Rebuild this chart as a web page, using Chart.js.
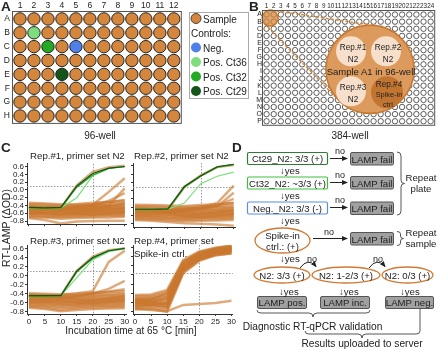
<!DOCTYPE html>
<html>
<head>
<meta charset="utf-8">
<script src="https://cdn.jsdelivr.net/npm/chart.js@4.4.1/dist/chart.umd.min.js"></script>
<style>
  body { margin: 0; background: #fff; }
  #fig { position: relative; width: 440px; height: 350px; overflow: hidden; }
  #fig canvas { position: absolute; }
  #fig svg { position: absolute; left: 0; top: 0; }
  svg text { font-family: Arial, "Liberation Sans", sans-serif; fill: #222; }
</style>
</head>
<body>
<div id="fig">
  <canvas id="plate96" width="188" height="131" style="left:0;top:0"></canvas>
  <canvas id="plate384" width="186" height="130" style="left:253px;top:0"></canvas>
  <canvas id="rep1" width="131" height="72" style="left:0;top:158px"></canvas>
  <canvas id="rep2" width="106" height="72" style="left:131px;top:158px"></canvas>
  <canvas id="rep3" width="131" height="86" style="left:0;top:240px"></canvas>
  <canvas id="rep4" width="106" height="86" style="left:131px;top:240px"></canvas>

  <svg width="440" height="350" viewBox="0 0 440 350">
    <defs>
      <marker id="ah" markerWidth="6" markerHeight="6" refX="5" refY="3" orient="auto" markerUnits="userSpaceOnUse">
        <path d="M0,0.5 L6,3 L0,5.5 z" fill="#222"/>
      </marker>
    </defs>
    <!-- panel letters -->
    <g font-weight="bold" font-size="13.5">
      <text x="1" y="11">A</text>
      <text x="249" y="11">B</text>
      <text x="1" y="152">C</text>
      <text x="232" y="152">D</text>
    </g>

    <!-- panel A legend -->
    <rect x="189.5" y="12.5" width="59" height="86" fill="none" stroke="#aaa"/>
    <circle cx="196" cy="18.5" r="5" fill="#d4873c" stroke="#222" stroke-width="0.8"/>
    <circle cx="196" cy="47.5" r="5" fill="#4f80e8"/>
    <circle cx="196" cy="62" r="5" fill="#7ddc7d"/>
    <circle cx="196" cy="76.5" r="5" fill="#22aa22"/>
    <circle cx="196" cy="91" r="5" fill="#14561a"/>
    <g font-size="10" dominant-baseline="central">
      <text x="203" y="19">Sample</text>
      <text x="191" y="33">Controls:</text>
      <text x="203" y="48">Neg.</text>
      <text x="203" y="62.5">Pos. Ct36</text>
      <text x="203" y="77">Pos. Ct32</text>
      <text x="203" y="91.5">Pos. Ct29</text>
    </g>
    <text x="100" y="139" font-size="10" text-anchor="middle">96-well</text>
    <text x="350" y="139" font-size="10" text-anchor="middle">384-well</text>

    <!-- panel B zoom labels -->
    <g font-size="8.2" text-anchor="middle" dominant-baseline="central">
      <text x="353" y="47.5">Rep.#1</text><text x="353" y="59">N2</text>
      <text x="388" y="47.5">Rep.#2</text><text x="388" y="59">N2</text>
      <text x="353" y="87.5">Rep.#3</text><text x="353" y="99">N2</text>
      <text x="389" y="84">Rep.#4</text>
      <text x="389" y="94.5" font-size="7.4">Spike-in</text>
      <text x="389" y="104.5" font-size="7.4">ctrl.</text>
      <text x="371" y="71" font-size="9.5">Sample A1 in 96-well</text>
    </g>

    <!-- panel C text -->
    <g font-size="9.7">
      <text x="30" y="159">Rep.#1, primer set N2</text>
      <text x="134" y="159">Rep.#2, primer set N2</text>
      <text x="30" y="244">Rep.#3, primer set N2</text>
      <text x="134" y="244">Rep.#4, primer set</text>
      <text x="134" y="257">Spike-in ctrl.</text>
    </g>
    <text transform="translate(9.5,228) rotate(-90)" font-size="10.5" text-anchor="middle">RT-LAMP (ΔOD)</text>
    <text x="131" y="334" font-size="10" text-anchor="middle">Incubation time at 65 °C [min]</text>

    <!-- panel D flowchart -->
    <g font-size="9.6" text-anchor="middle" dominant-baseline="central">
      <rect x="247.5" y="152.5" width="80" height="12" rx="1.5" fill="#fff" stroke="#2e7d32" stroke-width="1.2"/>
      <text x="287.5" y="158.8">Ct29_N2: 3/3 (+)</text>
      <rect x="247.5" y="177" width="80" height="12" rx="1.5" fill="#fff" stroke="#3cbf3c" stroke-width="1.2"/>
      <text x="287.5" y="183.3">Ct32_N2: ~3/3 (+)</text>
      <rect x="247.5" y="202" width="80" height="12" rx="1.5" fill="#fff" stroke="#5b8de8" stroke-width="1.2"/>
      <text x="287.5" y="208.3">Neg._N2: 3/3 (-)</text>

      <rect x="350.5" y="152.5" width="43" height="12.5" rx="1.5" fill="#a0a0a0" stroke="#555"/>
      <text x="372" y="159">LAMP fail</text>
      <rect x="350.5" y="176.5" width="43" height="12.5" rx="1.5" fill="#a0a0a0" stroke="#555"/>
      <text x="372" y="183">LAMP fail</text>
      <rect x="350.5" y="202" width="43" height="12.5" rx="1.5" fill="#a0a0a0" stroke="#555"/>
      <text x="372" y="208.5">LAMP fail</text>
      <rect x="350.5" y="232.5" width="43" height="12.5" rx="1.5" fill="#a0a0a0" stroke="#555"/>
      <text x="372" y="239">LAMP fail</text>

      <text x="340" y="151" font-size="9">no</text>
      <text x="340" y="175" font-size="9">no</text>
      <text x="340" y="200" font-size="9">no</text>
      <text x="329" y="232" font-size="9">no</text>

      <ellipse cx="282.5" cy="240.5" rx="27.5" ry="12.5" fill="#fff" stroke="#cf7a34" stroke-width="1.3"/>
      <text x="282.5" y="235">Spike-in</text>
      <text x="282.5" y="246.5">ctrl.: (+)</text>

      <ellipse cx="282" cy="275" rx="28" ry="8" fill="#fff" stroke="#cf7a34" stroke-width="1.3"/>
      <text x="282" y="275.5">N2: 3/3 (+)</text>
      <ellipse cx="346" cy="275" rx="34" ry="8" fill="#fff" stroke="#cf7a34" stroke-width="1.3"/>
      <text x="346" y="275.5">N2: 1-2/3 (+)</text>
      <ellipse cx="407.5" cy="275" rx="25.5" ry="8" fill="#fff" stroke="#cf7a34" stroke-width="1.3"/>
      <text x="407.5" y="275.5">N2: 0/3 (+)</text>
      <text x="312" y="259" font-size="9">no</text>
      <text x="378" y="259" font-size="9">no</text>

      <rect x="257.5" y="296.5" width="49" height="12" rx="1.5" fill="#a0a0a0" stroke="#555"/>
      <text x="282" y="302.8">LAMP pos.</text>
      <rect x="320.5" y="296.5" width="49" height="12" rx="1.5" fill="#a0a0a0" stroke="#555"/>
      <text x="345" y="302.8">LAMP inc.</text>
      <rect x="385.5" y="296.5" width="48" height="12" rx="1.5" fill="#a0a0a0" stroke="#555"/>
      <text x="409.5" y="302.8">LAMP neg.</text>

      <text x="421" y="177">Repeat</text>
      <text x="421" y="188.5">plate</text>
      <text x="421" y="232">Repeat</text>
      <text x="421" y="243.5">sample</text>
    </g>
    <g font-size="9.6" dominant-baseline="central">
      <text x="280" y="170">↓yes</text>
      <text x="280" y="195">↓yes</text>
      <text x="280" y="220">↓yes</text>
      <text x="280" y="258">↓yes</text>
      <text x="279" y="291">↓yes</text>
      <text x="339" y="291">↓yes</text>
      <text x="400" y="291">↓yes</text>
    </g>
    <g stroke="#222" stroke-width="1" fill="none">
      <line x1="330" y1="158.5" x2="347" y2="158.5" marker-end="url(#ah)"/>
      <line x1="330" y1="182.5" x2="347" y2="182.5" marker-end="url(#ah)"/>
      <line x1="330" y1="207.5" x2="347" y2="207.5" marker-end="url(#ah)"/>
      <line x1="313" y1="238.5" x2="347" y2="238.5" marker-end="url(#ah)"/>
      <path d="M300,268 Q308,257 316,266.5" marker-end="url(#ah)"/>
      <path d="M369,268 Q377,257 385,266.5" marker-end="url(#ah)"/>
    </g>
    <g stroke="#444" stroke-width="0.9" fill="none">
      <path d="M397,152 Q401,152 401,156 L401,180 Q401,183.5 404.5,183.5 Q401,183.5 401,187 L401,211 Q401,215 397,215"/>
      <path d="M397,231.5 Q400.5,231.5 400.5,234 L400.5,236 Q400.5,238.5 403.5,238.5 Q400.5,238.5 400.5,241 L400.5,243 Q400.5,245.5 397,245.5"/>
      <path d="M257,310 Q257,313 261,313 L309,313 Q313,313 313,317 Q313,313 317,313 L366,313 Q370,313 370,310"/>
      <path d="M305,331 Q305,334 309,334 L358,334 Q362,334 362,338 Q362,334 366,334 L416,334 Q420,334 420,331 L420,309"/>
    </g>
    <g font-size="10.2" text-anchor="middle">
      <text x="312.5" y="330">Diagnostic RT-qPCR validation</text>
      <text x="362" y="347">Results uploaded to server</text>
    </g>
  </svg>
</div>

<script>
// ---------- data: plates ----------
const rows96 = ['A', 'B', 'C', 'D', 'E', 'F', 'G', 'H'];
const cols96 = [1, 2, 3, 4, 5, 6, 7, 8, 9, 10, 11, 12];
const controlWell = ['B2', 'C3', 'C5', 'E4'];
const controlType = ['Pos. Ct36', 'Pos. Ct32', 'Neg.', 'Pos. Ct29'];

const rows384 = ['A', 'B', 'C', 'D', 'E', 'F', 'G', 'H', 'I', 'J', 'K', 'L', 'M', 'N', 'O', 'P'];
const cols384 = [1, 2, 3, 4, 5, 6, 7, 8, 9, 10, 11, 12, 13, 14, 15, 16, 17, 18, 19, 20, 21, 22, 23, 24];

// ---------- data: RT-LAMP curves (ΔOD), sampled at these times ----------
const timeMin = [0, 5, 10, 15, 20, 25, 30];
const yTicks = [-0.8, -0.6, -0.4, -0.2, 0.0, 0.2, 0.4, 0.6];
const xTicks = [0, 5, 10, 15, 20, 25, 30];

const rep1Samples = [
  [-0.33, -0.35, -0.37, -0.36, -0.33, -0.31, -0.28],
  [-0.36, -0.37, -0.40, -0.38, -0.37, -0.35, -0.33],
  [-0.39, -0.41, -0.42, -0.42, -0.40, -0.39, -0.36],
  [-0.42, -0.43, -0.45, -0.43, -0.42, -0.41, -0.40],
  [-0.44, -0.45, -0.47, -0.47, -0.45, -0.43, -0.42],
  [-0.46, -0.48, -0.49, -0.48, -0.46, -0.46, -0.45],
  [-0.48, -0.49, -0.51, -0.51, -0.49, -0.48, -0.46],
  [-0.50, -0.52, -0.53, -0.52, -0.51, -0.49, -0.49],
  [-0.52, -0.53, -0.55, -0.55, -0.53, -0.52, -0.50],
  [-0.55, -0.55, -0.57, -0.56, -0.55, -0.55, -0.53],
  [-0.56, -0.58, -0.59, -0.58, -0.57, -0.56, -0.56],
  [-0.58, -0.60, -0.61, -0.61, -0.59, -0.58, -0.57],
  [-0.61, -0.61, -0.63, -0.62, -0.61, -0.61, -0.59],
  [-0.62, -0.64, -0.65, -0.64, -0.64, -0.62, -0.62],
  [-0.65, -0.66, -0.68, -0.66, -0.65, -0.64, -0.63],
  [-0.67, -0.69, -0.70, -0.69, -0.68, -0.67, -0.66],
  [-0.70, -0.71, -0.74, -0.72, -0.71, -0.71, -0.69],
  [-0.72, -0.77, -0.86, -0.81, -0.80, -0.79, -0.79],
  [-0.53, -0.50, -0.46, -0.52, -0.56, -0.51, -0.47],
  [-0.61, -0.58, -0.55, -0.60, -0.63, -0.59, -0.55],
  [-0.45, -0.47, -0.52, -0.43, -0.38, -0.31, -0.26],
  [-0.57, -0.60, -0.64, -0.57, -0.50, -0.43, -0.34],
  [-0.47, -0.48, -0.47, 0.12, 0.46, 0.58, 0.62],
  [-0.43, -0.44, -0.45, -0.41, -0.38, -0.05, 0.30],
  [-0.49, -0.50, -0.51, -0.48, -0.45, -0.40, 0.04],
  [-0.46, -0.47, -0.49, -0.46, -0.40, -0.28, -0.08]
];
const rep1Ct29 = [-0.45, -0.46, -0.45, 0.10, 0.42, 0.56, 0.60];
const rep1Ct32 = [-0.46, -0.47, -0.46, 0.07, 0.38, 0.55, 0.60];
const rep1Ct36 = [-0.47, -0.47, -0.46, -0.20, 0.37, 0.55, 0.59];

const rep2Samples = [
  [-0.34, -0.35, -0.36, -0.37, -0.35, -0.33, -0.30],
  [-0.37, -0.38, -0.39, -0.40, -0.38, -0.37, -0.35],
  [-0.40, -0.41, -0.42, -0.43, -0.42, -0.40, -0.39],
  [-0.42, -0.43, -0.45, -0.46, -0.44, -0.43, -0.42],
  [-0.45, -0.46, -0.47, -0.48, -0.47, -0.46, -0.44],
  [-0.47, -0.48, -0.50, -0.51, -0.49, -0.48, -0.47],
  [-0.49, -0.50, -0.52, -0.53, -0.52, -0.50, -0.49],
  [-0.51, -0.52, -0.54, -0.55, -0.54, -0.53, -0.51],
  [-0.53, -0.54, -0.56, -0.58, -0.56, -0.55, -0.54],
  [-0.55, -0.57, -0.58, -0.60, -0.58, -0.57, -0.56],
  [-0.57, -0.59, -0.60, -0.62, -0.61, -0.59, -0.58],
  [-0.60, -0.61, -0.62, -0.64, -0.63, -0.62, -0.60],
  [-0.62, -0.63, -0.65, -0.66, -0.65, -0.64, -0.63],
  [-0.64, -0.65, -0.67, -0.68, -0.67, -0.66, -0.65],
  [-0.66, -0.68, -0.69, -0.71, -0.70, -0.69, -0.68],
  [-0.69, -0.70, -0.72, -0.74, -0.73, -0.72, -0.71],
  [-0.71, -0.73, -0.76, -0.79, -0.80, -0.82, -0.85],
  [-0.52, -0.49, -0.47, -0.55, -0.58, -0.53, -0.48],
  [-0.59, -0.56, -0.53, -0.61, -0.64, -0.60, -0.57],
  [-0.48, -0.49, -0.52, -0.47, -0.42, -0.35, -0.29],
  [-0.47, -0.47, -0.46, 0.09, 0.37, 0.57, 0.62],
  [-0.45, -0.46, -0.47, -0.46, -0.42, -0.38, -0.05],
  [-0.50, -0.51, -0.52, -0.50, -0.46, -0.36, -0.20],
  [-0.44, -0.45, -0.46, -0.44, -0.40, -0.30, 0.12]
];
const rep2Ct29 = [-0.45, -0.45, -0.44, 0.10, 0.36, 0.58, 0.64];
const rep2Ct32 = [-0.46, -0.46, -0.45, 0.08, 0.35, 0.57, 0.63];
const rep2Ct36 = [-0.46, -0.46, -0.45, -0.30, 0.17, 0.35, 0.45];

const rep3Samples = [
  [-0.40, -0.41, -0.42, -0.41, -0.39, -0.37, -0.35],
  [-0.42, -0.43, -0.45, -0.44, -0.42, -0.41, -0.39],
  [-0.45, -0.46, -0.48, -0.46, -0.45, -0.44, -0.42],
  [-0.47, -0.48, -0.50, -0.49, -0.47, -0.46, -0.45],
  [-0.49, -0.50, -0.52, -0.51, -0.50, -0.49, -0.47],
  [-0.51, -0.52, -0.55, -0.53, -0.52, -0.51, -0.50],
  [-0.53, -0.54, -0.57, -0.56, -0.54, -0.53, -0.52],
  [-0.55, -0.56, -0.59, -0.58, -0.56, -0.55, -0.54],
  [-0.57, -0.58, -0.61, -0.60, -0.58, -0.57, -0.56],
  [-0.59, -0.60, -0.63, -0.62, -0.60, -0.59, -0.58],
  [-0.61, -0.62, -0.65, -0.64, -0.62, -0.61, -0.60],
  [-0.63, -0.64, -0.67, -0.66, -0.64, -0.63, -0.62],
  [-0.65, -0.67, -0.70, -0.68, -0.67, -0.66, -0.65],
  [-0.68, -0.69, -0.73, -0.71, -0.69, -0.68, -0.67],
  [-0.70, -0.72, -0.77, -0.74, -0.72, -0.71, -0.70],
  [-0.72, -0.75, -0.80, -0.77, -0.75, -0.74, -0.73],
  [-0.54, -0.52, -0.49, -0.55, -0.57, -0.52, -0.46],
  [-0.60, -0.58, -0.56, -0.61, -0.63, -0.58, -0.53],
  [-0.46, -0.48, -0.52, -0.46, -0.40, -0.36, -0.31],
  [-0.44, -0.45, -0.45, 0.10, 0.42, 0.56, 0.60],
  [-0.45, -0.46, -0.44, -0.40, -0.35, 0.30, 0.55],
  [-0.47, -0.48, -0.48, -0.46, -0.40, -0.30, -0.12]
];
const rep3Ct29 = [-0.45, -0.45, -0.45, 0.10, 0.40, 0.55, 0.60];
const rep3Ct32 = [-0.46, -0.46, -0.45, 0.08, 0.38, 0.55, 0.61];
const rep3Ct36 = [-0.46, -0.46, -0.45, -0.05, 0.35, 0.53, 0.60];

const rep4Samples = [
  [-0.44, -0.43, -0.33, 0.33, 0.52, 0.60, 0.65],
  [-0.47, -0.46, -0.37, 0.30, 0.50, 0.59, 0.64],
  [-0.50, -0.49, -0.41, 0.27, 0.48, 0.58, 0.63],
  [-0.52, -0.51, -0.45, 0.25, 0.47, 0.57, 0.62],
  [-0.54, -0.53, -0.48, 0.23, 0.46, 0.56, 0.61],
  [-0.56, -0.55, -0.52, 0.21, 0.45, 0.55, 0.60],
  [-0.58, -0.57, -0.55, 0.19, 0.43, 0.54, 0.59],
  [-0.60, -0.59, -0.58, 0.17, 0.42, 0.53, 0.58],
  [-0.62, -0.61, -0.61, 0.16, 0.41, 0.52, 0.57],
  [-0.64, -0.63, -0.64, 0.14, 0.40, 0.51, 0.56],
  [-0.66, -0.65, -0.67, 0.12, 0.38, 0.50, 0.55],
  [-0.68, -0.67, -0.70, 0.10, 0.37, 0.48, 0.54],
  [-0.70, -0.69, -0.73, 0.08, 0.35, 0.47, 0.52],
  [-0.73, -0.72, -0.77, 0.06, 0.33, 0.45, 0.50],
  [-0.76, -0.75, -0.81, 0.04, 0.31, 0.43, 0.48],
  [-0.57, -0.54, -0.40, 0.28, 0.49, 0.56, 0.58],
  [-0.63, -0.60, -0.50, 0.20, 0.44, 0.53, 0.55],
  [-0.69, -0.66, -0.62, 0.13, 0.36, 0.46, 0.50],
  [-0.55, -0.58, -0.66, 0.09, 0.34, 0.44, 0.47],
  [-0.61, -0.64, -0.71, 0.11, 0.39, 0.49, 0.53],
  [-0.74, -0.77, -0.80, -0.66, -0.64, -0.62, -0.57]
];

// ---------- styles ----------
Chart.defaults.font.family = 'Arial, "Liberation Sans", sans-serif';
Chart.defaults.color = '#222';

const wellOrange = '#d4873c';
const controlColour = { 'Neg.': '#4f80e8', 'Pos. Ct36': '#7ddc7d', 'Pos. Ct32': '#22aa22', 'Pos. Ct29': '#14561a' };
const curveOrange = 'rgba(202, 120, 46, 0.62)';

// outline round the chart area, like a plate frame
const plateBorder = {
  id: 'plateBorder',
  afterDraw(chart) {
    const { ctx, chartArea: { left, top, width, height } } = chart;
    ctx.save();
    ctx.strokeStyle = '#555';
    ctx.lineWidth = 1;
    ctx.strokeRect(left - 0.5, top - 0.5, width + 1, height + 1);
    ctx.restore();
  }
};

// magnified view of well A1 on the 384 plate
const zoomOverlay = {
  id: 'zoomOverlay',
  afterDatasetsDraw(chart) {
    const { ctx, scales: { x, y } } = chart;
    const sx = x.getPixelForValue(1.5), sy = y.getPixelForValue(1.5), sr = 8;
    const bx = x.getPixelForValue(15.5), by = y.getPixelForValue(8.7), br = 44;
    ctx.save();
    // external tangents
    const th = Math.atan2(by - sy, bx - sx);
    const d = Math.hypot(bx - sx, by - sy);
    const a = Math.acos((sr - br) / d);
    ctx.strokeStyle = '#d4873c';
    ctx.lineWidth = 1.5;
    ctx.setLineDash([3, 2]);
    [th + a, th - a].forEach(ang => {
      ctx.beginPath();
      ctx.moveTo(sx + sr * Math.cos(ang), sy + sr * Math.sin(ang));
      ctx.lineTo(bx + br * Math.cos(ang), by + br * Math.sin(ang));
      ctx.stroke();
    });
    ctx.setLineDash([]);
    ctx.fillStyle = 'rgba(214, 135, 60, 0.75)';
    ctx.strokeStyle = '#c9782f';
    ctx.beginPath(); ctx.arc(sx, sy, sr, 0, Math.PI * 2); ctx.fill(); ctx.stroke();
    ctx.fillStyle = '#dc9a5c';
    ctx.beginPath(); ctx.arc(bx, by, br, 0, Math.PI * 2); ctx.fill(); ctx.stroke();
    const inner = [[-19, -18, 15, '#f7e0cb'], [16, -18, 15, '#f7e0cb'], [-19, 22, 15, '#f7e0cb'], [17, 23, 16, '#c27431']];
    inner.forEach(([dx, dy, r, c]) => {
      ctx.fillStyle = c;
      ctx.beginPath(); ctx.arc(bx + dx, by + dy, r, 0, Math.PI * 2); ctx.fill();
    });
    ctx.restore();
  }
};

// threshold line and 20 min marker
const refLines = {
  id: 'refLines',
  beforeDatasetsDraw(chart, args, opts) {
    const { ctx, chartArea: { left, right, top, bottom }, scales: { x, y } } = chart;
    ctx.save();
    ctx.strokeStyle = '#9a9a9a';
    ctx.lineWidth = 1;
    ctx.setLineDash([1.5, 1.5]);
    const px = Math.round(x.getPixelForValue(20)) + 0.5;
    ctx.beginPath(); ctx.moveTo(px, top); ctx.lineTo(px, bottom); ctx.stroke();
    const py = Math.round(y.getPixelForValue(opts.threshold)) + 0.5;
    ctx.beginPath(); ctx.moveTo(left, py); ctx.lineTo(right, py); ctx.stroke();
    ctx.restore();
  }
};

function plateChart(id, rows, cols, wells, fills, o) {
  return new Chart(document.getElementById(id), {
    type: 'scatter',
    data: { datasets: [{ data: wells, pointRadius: o.r, pointBackgroundColor: fills, pointBorderColor: o.edge, pointBorderWidth: o.bw }] },
    options: {
      responsive: false, animation: false, events: [],
      layout: { padding: { left: 0, right: 2, top: 0, bottom: 2 } },
      plugins: { legend: { display: false }, tooltip: { enabled: false } },
      scales: {
        x: {
          position: 'top', min: 0.5, max: cols.length + 0.5,
          grid: { display: false, drawTicks: false }, border: { display: false },
          ticks: { font: { size: o.fx }, padding: o.px, maxRotation: 0, autoSkip: false },
          afterBuildTicks: s => { s.ticks = cols.map(v => ({ value: v })); },
          afterFit: s => { s.height = o.xh; }
        },
        y: {
          reverse: true, min: 0.5, max: rows.length + 0.5,
          grid: { display: false, drawTicks: false }, border: { display: false },
          ticks: { font: { size: o.fy }, padding: o.py, autoSkip: false, callback: v => rows[v - 1] },
          afterBuildTicks: s => { s.ticks = rows.map((r, i) => ({ value: i + 1 })); },
          afterFit: s => { s.width = o.yw; }
        }
      }
    },
    plugins: o.plugins
  });
}

// 96-well plate
const wells96 = [];
rows96.forEach((r, ri) => cols96.forEach(c => wells96.push({ x: c, y: ri + 1, id: r + c })));
const fill96 = wells96.map(w => {
  const k = controlWell.indexOf(w.id);
  return k < 0 ? wellOrange : controlColour[controlType[k]];
});
plateChart('plate96', rows96, cols96, wells96, fill96,
  { r: 6.2, edge: '#222', bw: 1, fx: 8.5, fy: 8.5, px: 1, py: 3, xh: 12, yw: 13, plugins: [plateBorder] });

// 384-well plate
const wells384 = [];
rows384.forEach((r, ri) => cols384.forEach(c => wells384.push({ x: c, y: ri + 1 })));
plateChart('plate384', rows384, cols384, wells384, '#fff',
  { r: 2.7, edge: '#333', bw: 0.8, fx: 6.3, fy: 7, px: 1, py: 1, xh: 11, yw: 10, plugins: [plateBorder, zoomOverlay] });

// RT-LAMP curves
function toPts(vals) { return vals.map((v, i) => ({ x: timeMin[i], y: v })); }

function lampChart(id, samples, controls, o) {
  const datasets = [];
  controls.forEach(([vals, type]) => datasets.push({
    data: toPts(vals), borderColor: controlColour[type], borderWidth: 1.2, pointRadius: 0
  }));
  samples.forEach(vals => datasets.push({
    data: toPts(vals), borderColor: curveOrange, borderWidth: 2.5, pointRadius: 0
  }));
  return new Chart(document.getElementById(id), {
    type: 'line',
    data: { datasets },
    options: {
      responsive: false, animation: false, events: [],
      layout: { padding: o.pad },
      plugins: { legend: { display: false }, tooltip: { enabled: false }, refLines: { threshold: o.threshold } },
      scales: {
        x: {
          type: 'linear', min: -0.6, max: 30.4,
          grid: { drawOnChartArea: false, tickLength: 2, color: '#333' },
          border: { color: '#333' },
          ticks: { display: o.xLabels, font: { size: 8 }, padding: 1, maxRotation: 0, autoSkip: false },
          afterBuildTicks: s => { s.ticks = xTicks.map(v => ({ value: v })); },
          afterFit: s => { s.height = o.xh; }
        },
        y: {
          min: o.ymin, max: o.ymax,
          grid: { drawOnChartArea: false, tickLength: 2, color: '#333' },
          border: { color: '#333' },
          ticks: { display: o.yLabels, font: { size: 8 }, padding: 1, autoSkip: false, callback: v => v.toFixed(1) },
          afterBuildTicks: s => { s.ticks = yTicks.map(v => ({ value: v })); },
          afterFit: s => { s.width = o.yw; }
        }
      }
    },
    plugins: [refLines]
  });
}

const topOpts = { ymin: -0.88, ymax: 0.67, xh: 3, xLabels: false, threshold: 0.1 };
const botOpts = { ymin: -0.86, ymax: 0.66, xh: 12, xLabels: true };

lampChart('rep1', rep1Samples, [[rep1Ct29, 'Pos. Ct29'], [rep1Ct32, 'Pos. Ct32'], [rep1Ct36, 'Pos. Ct36']],
  { ...topOpts, yLabels: true, yw: 27, pad: { left: 0, right: 5, top: 5, bottom: 0 } });
lampChart('rep2', rep2Samples, [[rep2Ct29, 'Pos. Ct29'], [rep2Ct32, 'Pos. Ct32'], [rep2Ct36, 'Pos. Ct36']],
  { ...topOpts, yLabels: false, yw: 2, pad: { left: 0, right: 2, top: 5, bottom: 0 } });
lampChart('rep3', rep3Samples, [[rep3Ct29, 'Pos. Ct29'], [rep3Ct32, 'Pos. Ct32'], [rep3Ct36, 'Pos. Ct36']],
  { ...botOpts, threshold: 0.1, yLabels: true, yw: 27, pad: { left: 0, right: 5, top: 5, bottom: 0 } });
lampChart('rep4', rep4Samples, [],
  { ...botOpts, threshold: 0.05, yLabels: false, yw: 2, pad: { left: 0, right: 4, top: 5, bottom: 0 } });
</script>
</body>
</html>
